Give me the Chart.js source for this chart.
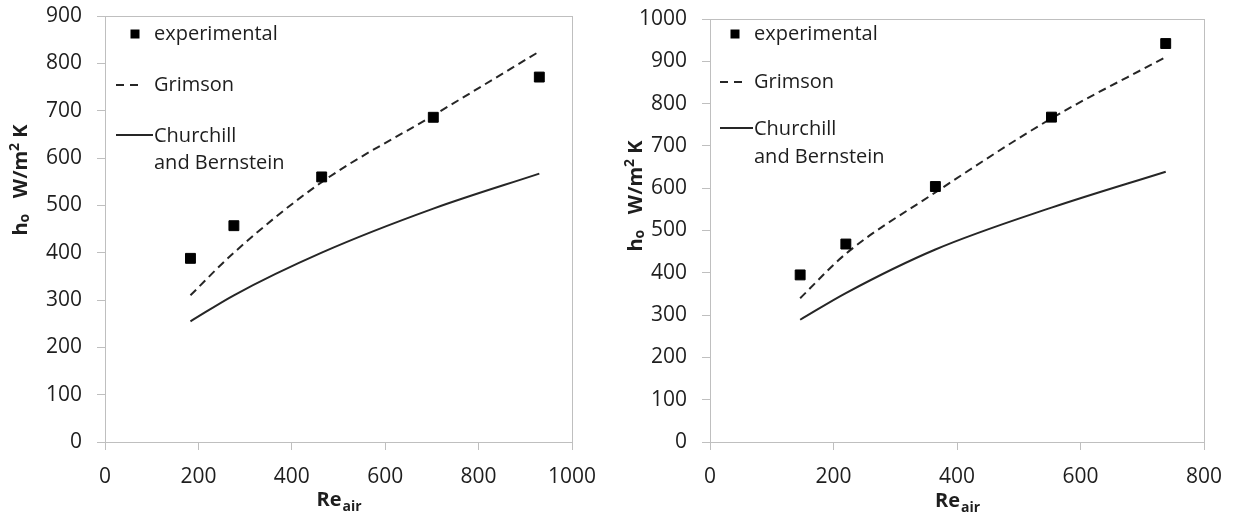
<!DOCTYPE html>
<html>
<head>
<meta charset="utf-8">
<script src="https://cdn.jsdelivr.net/npm/chart.js@4"></script>
<style>
  body { margin: 0; background: #fff; }
  canvas { position: absolute; top: 0; }
  #left { left: 0; }
  #right { left: 610px; }
</style>
</head>
<body>
<canvas id="left" width="610" height="525"></canvas>
<canvas id="right" width="626" height="525"></canvas>
<script>
// left panel: Re_air vs h_o
const reLeft = [183, 276, 464, 703, 930];
const expLeft = [388, 457, 560, 686, 771];
const grimsonLeft = [310, 400, 549, 690, 825];
const churchillLeft = [255, 310, 400, 493, 567];

// right panel
const reRight = [146, 220, 365, 553, 738];
const expRight = [395, 468, 604, 768, 942];
const grimsonRight = [340, 445, 590, 765, 910];
const churchillRight = [289, 352, 455, 554, 639];

const seriesNames = ["experimental", "Grimson", "Churchill", "and Bernstein"];

const FONT = "'Open Sans', sans-serif";
const TEXT = "#1e1e1e";
const AXIS = "#bfbfbf";
const LINE = "#262626";

function xy(xs, ys) {
  return xs.map((x, i) => ({ x: x, y: ys[i] }));
}

// draws the gray box round the plot area
const framePlugin = {
  id: "frame",
  beforeDatasetsDraw(chart) {
    const a = chart.chartArea;
    const ctx = chart.ctx;
    ctx.save();
    ctx.strokeStyle = AXIS;
    ctx.lineWidth = 1;
    ctx.strokeRect(Math.round(a.left) + 0.5, Math.round(a.top) + 0.5,
      Math.round(a.right - a.left), Math.round(a.bottom - a.top));
    ctx.restore();
  },
};

// legend inside the plot plus the axis titles with sub/superscripts
const labelsPlugin = {
  id: "labels",
  afterDraw(chart, args, o) {
    const ctx = chart.ctx;
    const a = chart.chartArea;
    ctx.save();
    ctx.fillStyle = TEXT;
    ctx.font = "20px " + FONT;
    ctx.textBaseline = "middle";
    ctx.textAlign = "left";

    const lg = o.legend;
    ctx.fillStyle = "#000";
    ctx.fillRect(lg.markX - 4.5, lg.rows[0] - 4.5, 9, 9);
    ctx.fillStyle = TEXT;
    ctx.fillText(seriesNames[0], lg.textX, lg.rows[0]);

    ctx.strokeStyle = LINE;
    ctx.lineWidth = 2;
    ctx.setLineDash([8, 6]);
    ctx.beginPath();
    ctx.moveTo(lg.lineX[0], lg.rows[1]);
    ctx.lineTo(lg.lineX[1], lg.rows[1]);
    ctx.stroke();
    ctx.fillText(seriesNames[1], lg.textX, lg.rows[1]);

    ctx.setLineDash([]);
    ctx.beginPath();
    ctx.moveTo(lg.lineX[0], lg.rows[2] - 1);
    ctx.lineTo(lg.lineX[2], lg.rows[2] - 1);
    ctx.stroke();
    ctx.fillText(seriesNames[2], lg.textX, lg.rows[2]);
    ctx.fillText(seriesNames[3], lg.textX, lg.rows[3]);

    // x title: Re with subscript air
    ctx.textBaseline = "alphabetic";
    const big = "bold 20px " + FONT;
    const small = "bold 14px " + FONT;
    ctx.font = big;
    const wRe = ctx.measureText("Re").width;
    ctx.font = small;
    const wAir = ctx.measureText("air").width;
    let x = (a.left + a.right) / 2 - (wRe + wAir) / 2;
    ctx.font = big;
    ctx.fillText("Re", x, o.xTitleY);
    ctx.font = small;
    ctx.fillText("air", x + wRe + 1, o.xTitleY + 5);

    // y title: h_o  W/m² K, rotated
    const parts = [
      ["h", big, 0], ["o", small, 2], ["   W/m", big, 0], ["2", small, -8], [" K", big, 0],
    ];
    let total = 0;
    parts.forEach((p) => { ctx.font = p[1]; total += ctx.measureText(p[0]).width; });
    ctx.translate(o.yTitle.x, o.yTitle.y);
    ctx.rotate(-Math.PI / 2);
    let px = -total / 2;
    parts.forEach((p) => {
      ctx.font = p[1];
      ctx.fillText(p[0], px, p[2]);
      px += ctx.measureText(p[0]).width;
    });
    ctx.restore();
  },
};

function makePanel(id, re, exp, grimson, churchill, g) {
  const tickFont = { family: FONT, size: 21 };
  return new Chart(document.getElementById(id), {
    type: "scatter",
    data: {
      datasets: [
        {
          label: seriesNames[0],
          data: xy(re, exp),
          pointStyle: "rect",
          pointRadius: 7,
          borderWidth: 1,
          backgroundColor: "#000",
          borderColor: "#000",
        },
        {
          label: seriesNames[1],
          data: xy(re, grimson),
          showLine: true,
          pointRadius: 0,
          borderColor: LINE,
          borderWidth: 2,
          borderDash: [8, 5],
          cubicInterpolationMode: "monotone",
        },
        {
          label: seriesNames[2] + " " + seriesNames[3],
          data: xy(re, churchill),
          showLine: true,
          pointRadius: 0,
          borderColor: LINE,
          borderWidth: 2,
          cubicInterpolationMode: "monotone",
        },
      ],
    },
    options: {
      responsive: false,
      animation: false,
      devicePixelRatio: 1,
      layout: { padding: { top: g.top, right: g.right, left: 0, bottom: 0 } },
      plugins: {
        legend: { display: false },
        tooltip: { enabled: false },
        labels: g.labels,
      },
      scales: {
        x: {
          min: 0,
          max: g.xMax,
          ticks: { stepSize: 200, padding: 14, color: TEXT, font: tickFont, callback: (v) => String(v) },
          grid: { drawOnChartArea: false, tickLength: 8, color: AXIS },
          border: { color: AXIS },
          afterFit(s) { s.height = 83; s.paddingLeft = 0; s.paddingRight = 0; },
        },
        y: {
          min: 0,
          max: g.yMax,
          ticks: { stepSize: 100, padding: 15, color: TEXT, font: tickFont, callback: (v) => String(v) },
          grid: { drawOnChartArea: false, tickLength: 8, color: AXIS },
          border: { color: AXIS },
          afterFit(s) { s.width = g.yWidth; s.paddingTop = 0; s.paddingBottom = 0; },
        },
      },
    },
    plugins: [framePlugin, labelsPlugin],
  });
}

makePanel("left", reLeft, expLeft, grimsonLeft, churchillLeft, {
  top: 16, right: 38, yWidth: 105, xMax: 1000, yMax: 900,
  labels: {
    legend: { markX: 135, textX: 154, lineX: [116, 143, 153], rows: [34, 85, 136, 163] },
    xTitleY: 506,
    yTitle: { x: 27, y: 180 },
  },
});

makePanel("right", reRight, expRight, grimsonRight, churchillRight, {
  top: 19, right: 32, yWidth: 100, xMax: 800, yMax: 1000,
  labels: {
    legend: { markX: 125, textX: 144, lineX: [110, 135, 143], rows: [34, 82, 129, 157] },
    xTitleY: 507,
    yTitle: { x: 32, y: 196 },
  },
});
</script>
</body>
</html>
